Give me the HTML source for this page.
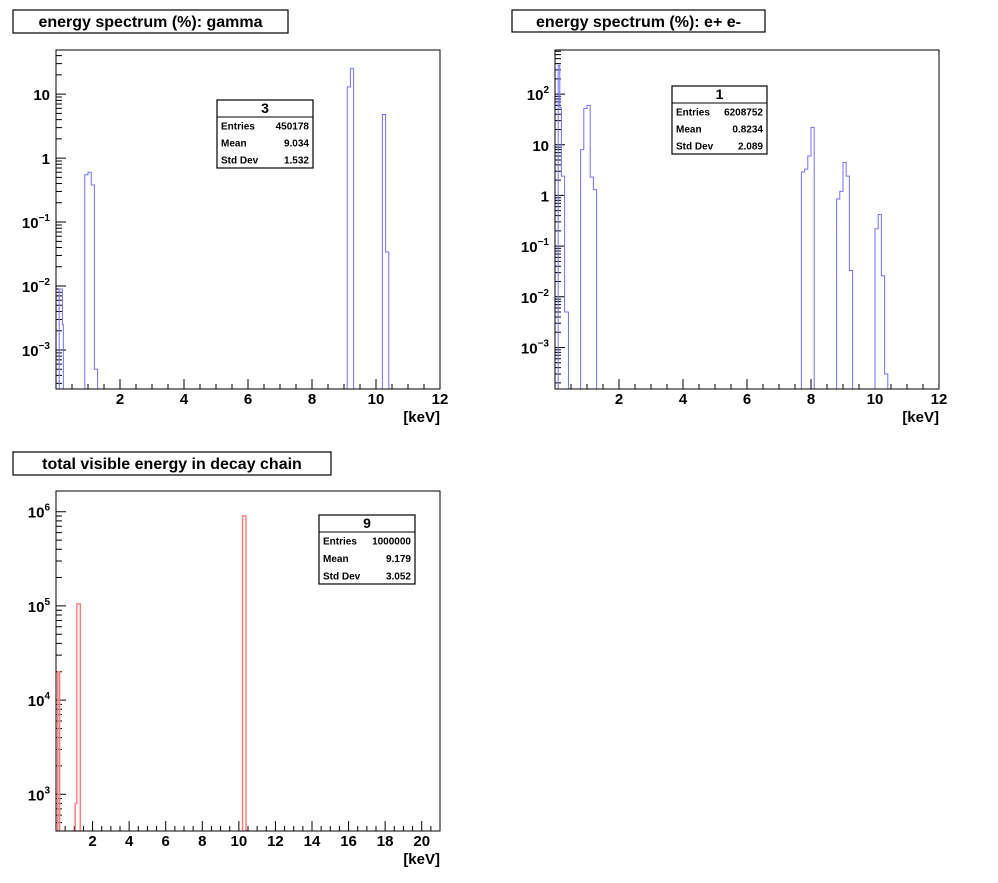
<!DOCTYPE html>
<html><head><meta charset="utf-8"><style>
html,body{margin:0;padding:0;background:#fff;}
svg{display:block;font-family:"Liberation Sans",Arial,sans-serif;}
</style></head><body>
<svg id="c" width="998" height="883" viewBox="0 0 998 883" xmlns="http://www.w3.org/2000/svg"></svg>
<script>
// gamma spectrum data
const gammaLo = [0.1, 0.2, 0.9, 1.0, 1.1, 1.2, 9.1, 9.2, 10.2, 10.3];
const gammaHi = [0.2, 0.23, 1.0, 1.1, 1.2, 1.3, 9.2, 9.3, 10.3, 10.4];
const gammaVals = [0.009, 0.0025, 0.55, 0.6, 0.38, 0.0005, 13, 25, 4.8, 0.034];
const gammaYTicks = [-3, -2, -1, 0, 1];
// e+ e- spectrum data
const eeLo = [0.1, 0.15, 0.2, 0.3, 0.8, 0.9, 1.0, 1.1, 1.2, 7.7, 7.8, 7.9, 8.0, 8.8, 8.9, 9.0, 9.1, 9.2, 10.0, 10.1, 10.2, 10.3];
const eeHi = [0.15, 0.2, 0.3, 0.42, 0.9, 1.0, 1.1, 1.2, 1.3, 7.8, 7.9, 8.0, 8.1, 8.9, 9.0, 9.1, 9.2, 9.3, 10.1, 10.2, 10.3, 10.4];
const eeVals = [370, 55, 2.4, 0.005, 8, 52, 60, 2.3, 1.3, 2.9, 3.3, 6, 22, 0.85, 1.2, 4.5, 2.4, 0.033, 0.22, 0.42, 0.026, 0.0003];
const eeYTicks = [-3, -2, -1, 0, 1, 2];
// total visible energy data
const totLo = [0.1, 1.05, 1.14, 10.2];
const totHi = [0.2, 1.14, 1.33, 10.39];
const totVals = [20000, 800, 105000, 900000];
const totYTicks = [3, 4, 5, 6];
const xTicksA = [2, 4, 6, 8, 10, 12];
const xTicksB = [2, 4, 6, 8, 10, 12, 14, 16, 18, 20];

const NS = "http://www.w3.org/2000/svg";
const svg = document.getElementById('c');
function mk(tag, attrs, parent) {
  const e = document.createElementNS(NS, tag);
  for (const k in attrs) e.setAttribute(k, attrs[k]);
  (parent || svg).appendChild(e);
  return e;
}
function txt(s, x, y, size, anchor, parent) {
  const t = mk('text', {x: x, y: y, 'font-size': size, 'font-weight': 'bold', 'text-anchor': anchor || 'start', fill: '#000'}, parent);
  t.textContent = s;
  return t;
}

function drawPad(cfg) {
  const g = mk('g', {});
  
  
  const tb = mk('rect', {x: cfg.tbox[0], y: cfg.tbox[1], width: cfg.tbox[2], height: cfg.tbox[3], fill: '#fff', stroke: '#000', 'stroke-width': 1.2}, g);
  
  
  const tt = txt(cfg.title, cfg.tbox[0] + cfg.tbox[2] / 2, cfg.tbox[1] + 17, 16, 'middle', g);
  
  

  const L = cfg.fx0, R = cfg.fx1, T = cfg.fy0, B = cfg.fy1;
  const X = v => L + (v - cfg.xmin) / (cfg.xmax - cfg.xmin) * (R - L);
  const Y = v => B - (Math.log10(v) - cfg.lmin) / (cfg.lmax - cfg.lmin) * (B - T);

  // x ticks (drawn under histogram)
  const xa = mk('g', {}, g);
  
  
  let td = '';
  for (let v = 0.5; v < cfg.xmax; v += 0.5) {
    const x = X(v);
    if (x <= L + 1 || x >= R) continue;
    const major = Math.abs(v / 2 - Math.round(v / 2)) < 1e-9;
    td += 'M' + x + ' ' + B + ' V' + (B - (major ? 10 : 5)) + ' ';
  }
  mk('path', {d: td, stroke: '#000', 'stroke-width': 1, fill: 'none'}, xa);
  cfg.xticks.forEach(v => {
    const t = txt(String(v), X(v), B + 15, 15, 'middle', xa);
    
    
  });
  const xt = txt('[keV]', R, B + 33, 15, 'end', xa);
  
  

  // y ticks
  const ya = mk('g', {}, g);
  
  
  let yd = '';
  for (let e = Math.floor(cfg.lmin); e <= Math.ceil(cfg.lmax); e++) {
    for (let m = 1; m <= 9; m++) {
      const lv = e + Math.log10(m);
      if (lv < cfg.lmin || lv > cfg.lmax) continue;
      const y = Y(Math.pow(10, lv));
      yd += 'M' + L + ' ' + y + ' H' + (L + (m === 1 ? 10 : 6)) + ' ';
    }
  }
  mk('path', {d: yd, stroke: '#000', 'stroke-width': 1, fill: 'none'}, ya);
  cfg.yticks.forEach(e => {
    const y = Y(Math.pow(10, e));
    let t;
    if (e === 0) t = txt('1', L - 6, y + 6, 15, 'end', ya);
    else if (e === 1) t = txt('10', L - 6, y + 6, 15, 'end', ya);
    else {
      const sup = e < 0 ? '\u2212' + (-e) : String(e);
      t = mk('text', {x: L - 6, y: y + 6, 'font-size': 15, 'font-weight': 'bold', 'text-anchor': 'end'}, ya);
      const a = mk('tspan', {}, t); a.textContent = '10';
      const b = mk('tspan', {dy: -7, 'font-size': 10}, t); b.textContent = sup;
    }
    
    
  });

  // histogram
  const clipId = cfg.name + '-clip';
  const cp = mk('clipPath', {id: clipId}, g);
  mk('rect', {x: L, y: T, width: R - L, height: B - T}, cp);
  let d = '';
  for (let i = 0; i < cfg.vals.length; i++) {
    const x0 = X(cfg.lo[i]), x1 = X(cfg.hi[i]), y = Y(cfg.vals[i]);
    const prevContig = i > 0 && Math.abs(cfg.hi[i - 1] - cfg.lo[i]) < 1e-9;
    if (!prevContig) d += 'M' + x0 + ' ' + B;
    d += ' L' + x0 + ' ' + y + ' L' + x1 + ' ' + y;
    const nextContig = i < cfg.vals.length - 1 && Math.abs(cfg.lo[i + 1] - cfg.hi[i]) < 1e-9;
    if (!nextContig) d += ' L' + x1 + ' ' + B + ' ';
  }
  const h = mk('path', {d: d, fill: 'none', stroke: cfg.color, 'stroke-width': cfg.sw, 'clip-path': 'url(#' + clipId + ')'}, g);
  
  

  const fr = mk('rect', {x: L, y: T, width: R - L, height: B - T, fill: 'none', stroke: '#000', 'stroke-width': 1}, g);
  
  

  // stats box
  const sb = mk('g', {}, g);
  
  
  const [sx, sy, sw, sh, st] = cfg.sbox;
  mk('rect', {x: sx, y: sy, width: sw, height: sh, fill: '#fff', stroke: '#000', 'stroke-width': 1.2}, sb);
  mk('line', {x1: sx, y1: sy + st, x2: sx + sw, y2: sy + st, stroke: '#000', 'stroke-width': 1}, sb);
  txt(cfg.stats[0], sx + sw / 2, sy + st - 4, 14, 'middle', sb);
  const rows = [['Entries', cfg.stats[1]], ['Mean', cfg.stats[2]], ['Std Dev', cfg.stats[3]]];
  const rh = (sh - st) / 3;
  rows.forEach((r, i) => {
    const yy = sy + st + rh * i + rh / 2 + 4;
    txt(r[0], sx + 4, yy, 10, 'start', sb);
    txt(r[1], sx + sw - 4, yy, 10, 'end', sb);
  });
}

drawPad({name: 'gamma-spectrum-pad', title: 'energy spectrum (%): gamma', tbox: [13, 10, 275, 23],
  fx0: 56, fx1: 440, fy0: 50, fy1: 389, xmin: 0, xmax: 12, lmin: -3.61, lmax: 1.69,
  lo: gammaLo, hi: gammaHi, vals: gammaVals, color: '#7070ff', sw: 1, xticks: xTicksA, yticks: gammaYTicks,
  sbox: [217, 100, 96, 68, 17], stats: ['3', '450178', '9.034', '1.532']});
drawPad({name: 'ee-spectrum-pad', title: 'energy spectrum (%): e+ e-', tbox: [512, 10, 253, 22],
  fx0: 555, fx1: 939, fy0: 50, fy1: 389, xmin: 0, xmax: 12, lmin: -3.82, lmax: 2.87,
  lo: eeLo, hi: eeHi, vals: eeVals, color: '#7070ff', sw: 1, xticks: xTicksA, yticks: eeYTicks,
  sbox: [672, 86, 95, 68, 17], stats: ['1', '6208752', '0.8234', '2.089']});
drawPad({name: 'total-energy-pad', title: 'total visible energy in decay chain', tbox: [13, 452, 318, 23],
  fx0: 56, fx1: 440, fy0: 491, fy1: 831, xmin: 0, xmax: 21, lmin: 2.61, lmax: 6.22,
  lo: totLo, hi: totHi, vals: totVals, color: '#ff8080', sw: 1.5, xticks: xTicksB, yticks: totYTicks,
  sbox: [319, 515, 96, 69, 17], stats: ['9', '1000000', '9.179', '3.052']});
</script>
</body></html>
